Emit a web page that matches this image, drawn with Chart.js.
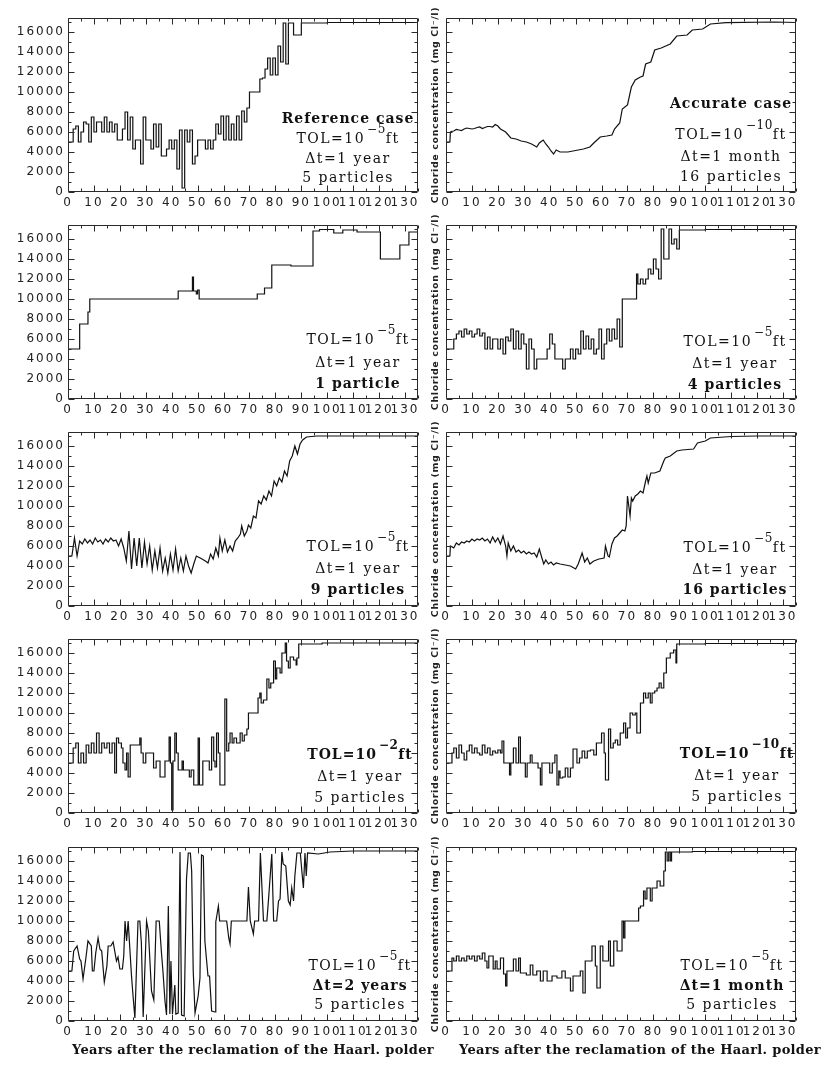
<!DOCTYPE html>
<html>
<head>
<meta charset="utf-8">
<title>Chloride concentration after the reclamation of the Haarlemmermeer polder</title>
<script src="https://cdn.jsdelivr.net/npm/chart.js@4.4.1/dist/chart.umd.min.js"></script>
<style>
  html, body { margin: 0; padding: 0; background: #fff; }
  #fig { position: relative; width: 822px; height: 1065px; overflow: hidden; background: #fff; }
  #fig canvas { position: absolute; }
  .note {
    position: absolute; transform: translateX(-50%); white-space: nowrap;
    font-family: "DejaVu Serif", serif; font-size: 14px; line-height: 14px;
    letter-spacing: 1.5px; color: #111; z-index: 2;
  }
  .note b { letter-spacing: 1px; }
  .note sup { font-size: 12px; vertical-align: 0; position: relative; top: -10px; margin-left: 2px; letter-spacing: 0.5px; }
  .xtitle {
    position: absolute; transform: translateX(-50%); white-space: nowrap;
    font-family: "DejaVu Serif", serif; font-weight: bold; font-size: 13px;
    letter-spacing: 0.3px; line-height: 14px; color: #111; z-index: 2;
  }
</style>
</head>
<body>
<div id="fig"></div>
<script>
// ---- axis ticks ----------------------------------------------------------
const X_LABELS = [0, 10, 20, 30, 40, 50, 60, 70, 80, 90, 100, 110, 120, 130];
const X_MARKS = [0, 5, 10, 15, 20, 25, 30, 35, 40, 45, 50, 55, 60, 65, 70, 75, 80, 85, 90, 95, 100, 105, 110, 115, 120, 125, 130, 135];
const Y_LABELS = [0, 2000, 4000, 6000, 8000, 10000, 12000, 14000, 16000];
const Y_MARKS = [0, 1000, 2000, 3000, 4000, 5000, 6000, 7000, 8000, 9000, 10000, 11000, 12000, 13000, 14000, 15000, 16000, 17000];
const X_MAX = 135;
const Y_MAX = 17400;
const Y_TITLE = 'Chloride concentration (mg Cl\u207B/l)';
const X_TITLE = 'Years after the reclamation of the Haarl. polder';

// ---- chloride concentration (mg Cl-/l) against years after reclamation ----
// Reference case: TOL=1e-5 ft, dt=1 year, 5 particles
const refYears = [0,2,3,4,5,6,7,8,9,10,11,12,13,14,15,16,17,18,19,21,22,23,24,25,26,28,29,30,32,33,34,35,36,38,39,40,41,42,43,44,45,46,47,48,49,50,53,54,55,56,57,58,59,60,61,62,63,64,65,66,67,68,69,70,74,75,76,77,78,79,80,81,82,83,84,85,87,90,100,135];
const refConc = [5000,6300,6600,5000,6000,7000,6800,5000,7500,6000,7000,7000,6000,7500,6000,7000,6000,6800,5200,6300,8000,5200,7500,4300,5200,2800,7500,5200,4300,6800,4500,6800,3600,4300,5200,4300,5200,2300,6200,400,6200,5000,6200,2800,3600,5200,4300,5200,4300,5200,6800,5800,7600,5200,7600,5200,6800,5200,7600,5200,8100,7000,8400,10000,11300,11400,12300,13400,11700,13400,11700,14600,13000,16900,12800,16900,15700,16900,16950,17000];

// Accurate case: TOL=1e-10 ft, dt=1 month, 16 particles
const accYears = [0,1.5,1.7,2,3,4,5,6,7,8,9,10,11,12,13,14,15,16,17,18,19,20,21,23,25,27,29,31,33,35,36,37.5,38.5,39.5,40.5,41.5,42.5,44,47,50,53,55.5,57,59.5,62,64,65,67,68,70,71.5,73,75,76,77,79,80.5,83,86.5,89,93,95,99,102,108,127,135];
const accConc = [5000,5000,6000,6050,6100,6250,6200,6150,6300,6400,6350,6300,6350,6450,6500,6350,6450,6550,6550,6500,6750,6600,6300,6000,5400,5300,5100,5000,4800,4500,4900,5200,4800,4500,4100,3800,4200,4000,4000,4150,4300,4500,4900,5500,5600,5700,6300,6900,8300,8700,10500,11200,11500,11600,12800,13000,14200,14400,14800,15600,15700,16200,16300,16800,16930,17000,16950];

// 1 particle
const oneYears = [0,4.5,7.7,8.4,42.5,48,48.4,49.5,50,50.6,73,75.8,78.6,86,94.5,97,102.5,106,111.5,120.5,128,131.5,135];
const oneConc = [5000,7500,8700,10000,10800,12200,10800,10500,10900,10000,10500,11100,13400,13300,16800,16950,16600,16900,16700,14000,15400,16700,16700];

// 4 particles
const fourYears = [0,3,4,5,6,7,8,9,10,11,12,13,14,15,16,17,18,20,21,22,23,24,25,26,27,28,29,30,31,32,33,34,35,39,40,41,42,45,46,48,49,50,51,52,53,54,55,56,57,58,59,60,61,62,63,64,65,66,67,68,73.5,74,75,76,77,78,79,80,81,82,83,84,86,87,88,89,90,100,135];
const fourConc = [5000,6000,6500,6800,6200,7000,6500,6800,6200,6500,7000,6300,6600,5000,6200,5000,6000,5000,6000,4500,6200,5800,7000,5000,6800,5000,6500,5500,3000,6000,5000,3000,4000,5000,6500,5500,4000,3000,4000,5000,4000,5000,4500,6800,5000,6300,5000,6000,4500,5000,7000,4000,5500,7000,5800,7000,6000,8000,5200,10000,12500,11500,12000,11500,12000,13000,12500,14000,13000,12000,17000,14000,17000,15500,16000,15000,16900,16950,17000];

// 9 particles
const nineYears = [0,1.5,2.5,3.5,4.5,5.5,6.5,7.5,8.5,9.5,10.5,11.5,12.5,13.5,14.5,15.5,16.5,17.5,18.5,19.5,20.5,21.5,22.5,23.5,24.5,25.5,26.5,27.5,28.5,29.5,30.5,31.5,32.5,33.5,34.5,35.5,36.5,37.5,38.5,39.5,40.5,41.5,42.5,43.5,44.5,45.5,46.5,47.5,48.5,49.5,51,53,54,55,56,57,58,58.6,59.5,60.5,61.5,62.5,63.5,64.5,65.5,66.5,67,68,69,69.6,70.5,71.5,72.5,73.5,74.5,75.5,76.5,77.5,78.5,79.5,80.5,81.5,82.5,83.5,84.5,85.5,86.5,87.5,88.5,89.5,90.5,92,96,135];
const nineConc = [5000,5000,6800,5000,6500,6200,6700,6300,6600,6200,6800,6400,6600,6200,6700,6400,6800,6500,6600,6000,6700,5800,4500,7500,3700,6800,4000,6800,3800,6400,4200,6000,3600,5500,3800,5800,3500,4800,3300,5200,3600,5700,3500,4800,3500,5000,4000,3300,4200,5000,4800,4500,4300,5200,4700,5800,5000,6800,5500,6600,5400,6000,5500,6500,6800,7200,8000,7000,7500,8100,7800,9000,8800,10500,10200,11000,10600,11500,11000,12500,12000,12800,12400,13500,13000,14500,15000,16000,15200,16200,16600,16900,17000,17000];

// 16 particles, dt=1 year
const sixYears = [0,1.5,1.7,3,4,5,6,7,8,9,10,11,12,13,14,15,16,17,18,19,20,21,22,23,23.5,24,25,26,27,28,29,30,31,32,33,34,35,36,37,37.7,38.5,39.5,40.5,41.5,42.5,44,46,48,50,51,52.5,53.5,54.5,55.5,57,59,61,61.5,62.5,63,64,65,66,67,68,69,69.5,70,70.5,71,71.5,72,73,74,75,76,77,77.5,78,79,80.5,82.5,84,84.6,86.5,89,91,95.5,97,100,102,110,120,135];
const sixConc = [5000,5000,6000,5800,6300,6100,6400,6300,6500,6400,6700,6500,6700,6600,6800,6500,6700,6300,6900,6400,6800,6200,7000,6000,5000,6300,5500,6000,5400,5600,5300,5500,5200,5400,5200,5300,4900,5700,4800,4200,4600,4200,4400,4100,4300,4200,4100,4000,3700,4200,5300,4400,4800,4200,4500,4700,4800,6000,5000,4900,6200,6800,7000,7300,7600,7500,8000,11000,10000,9000,10800,10500,11000,11200,11500,11300,12500,13000,12300,13300,13300,13500,14500,14800,15000,15500,15600,15700,16300,16500,16800,16950,17000,17000];

// TOL=1e-2 ft
const tol2Years = [0,2,3,4,5,6,7,8,9,10,11,12,13,14,15,16,17,18,18.7,19.5,20.6,21.2,22,22.6,23.2,24,27.7,28.2,29,30,33,34,35.5,37.4,39,39.5,40,40.5,41.2,41.8,42.5,44,44.5,46.8,47.5,48.5,50.2,50.7,52,54.5,55.4,56.2,56.7,57.3,58,58.6,60.5,61.2,62,62.5,63.3,64,65,66.4,67.2,68,69,69.6,73.3,74,74.5,75.4,76.7,77.5,78.2,79.3,80,80.5,81.8,82.5,83.8,84.3,85,85.7,87,88,88.3,89,98,135];
const tol2Conc = [5000,6500,7000,5000,6000,5000,6800,6000,7000,6000,8000,6000,7000,6500,7000,6000,7000,4000,7500,7000,6500,5000,4300,6000,3600,6800,7500,6000,5000,6000,4500,5200,3600,5200,7600,5000,300,5200,8000,6000,4300,5200,4300,3600,4300,2800,7500,2800,5200,4300,7600,5200,4600,8000,6000,2800,11400,6200,7000,8000,7000,7500,7000,8000,7200,7800,8400,10000,11500,12000,11000,11300,13400,12500,13000,15200,13400,14500,14000,16000,17000,15200,14500,15600,15300,14800,15500,16900,17000,17000];

// TOL=1e-10 ft, dt=1 year
const tol10Years = [0,2.3,3,4,5,6,7,8,9,10,11,12,13,14,15,16,17,18,19,20,21,21.6,22.3,24.5,25,26,27,28,28.7,30.6,31.3,32.5,33.2,35.5,36.4,37,40,41,42,42.8,43.5,44,45,46,47,48,49,50.5,51.5,52.5,53.5,54.5,55.7,57,58,60,61,61.5,62.7,63.5,64.5,65.3,66.2,67.2,68.5,69.3,70,71,72,73,73.6,75,76.2,77,78,78.8,79.5,80.5,81.4,82.2,83,84,85,86.5,87.8,88.7,89,100,135];
const tol10Conc = [5000,6000,6500,5500,6800,6000,5300,6200,6800,6000,6500,6000,5800,6800,6000,6500,5800,6200,6000,6300,6000,7200,5000,3800,5000,6500,5000,7600,5000,3600,5000,5800,5000,4500,2800,5000,4000,5000,5800,2800,4200,3500,3600,4500,3600,4500,6400,5000,5500,6200,5500,6200,6300,5800,7000,8000,6000,3300,8400,6500,7000,7300,6800,8000,9000,7500,8500,10000,9800,10000,8000,11000,12000,11500,12000,11000,12000,12200,12500,13000,12500,14000,15500,16000,16300,15000,16900,16950,17000];

// dt=2 years
const dt2Years = [0,1.5,2.2,3.5,4.5,5,5.8,7,7.7,9,9.4,10,10.7,11.6,12.3,13,14,15,15.5,16.5,17.4,18.7,19.3,20,21,21.5,22,22.6,23.2,24.5,25,25.8,27,27.7,28.3,29,30.3,31,32.2,33.1,34,35.2,36,36.7,37.4,38,38.7,39.3,39.7,40.3,41.2,41.6,42.5,43.2,43.8,44.8,45.7,46.4,47.2,47.7,48.3,49,50.2,50.9,51.5,52.2,52.8,53.3,54,54.6,55.4,56.7,57,58,58.5,61.2,62,62.5,63,69,69.6,70.3,71.5,72,73.5,74.2,75.4,76.7,77.3,78.6,79.3,80.5,81.2,81.8,82.5,83,84,85,85.7,86.3,87,87.5,88.3,89.6,90.2,90.8,91.4,91.9,92.4,96.6,101,110,135];
const dt2Conc = [5000,5000,7000,7500,6200,6000,4200,6500,8000,7500,5000,5000,6800,8300,7200,7000,3900,5500,7500,7500,7900,6000,6400,5200,5200,6500,10000,8000,10000,4500,2800,300,10000,10000,7800,400,10000,9000,3000,2100,10000,10000,7000,4700,2000,600,11500,700,6000,700,3600,700,800,16900,600,500,14200,16800,16800,15000,5000,800,2500,4300,16600,16500,8000,6500,4500,4500,1000,900,9900,11500,10000,10000,8300,7700,10000,10000,13400,10000,8700,10000,10000,16800,10000,10000,12000,16700,10000,10000,12000,12200,16900,15700,15500,12000,11600,13300,12000,14500,16800,16800,15000,13300,16800,14500,16800,16700,16900,17000,17000];

// dt=1 month, 5 particles
const monYears = [0,2.3,3,4,5,6,7,8,9,10,11,12,13,14,15,15.8,16.5,18.2,19,19.7,21,22.2,23,23.5,26,27,28,28.7,31,32.5,33.5,35,36.4,37.5,39,40.9,42.8,44.7,46,48,49,51.8,52.8,53.7,56.3,57.6,58.2,59.5,60.5,62.7,63.4,64.7,66,67.9,68.5,69,74.3,75,76.2,76.8,77.5,78.8,79.5,81.4,82.6,84,84.6,85.3,85.9,86.5,87,95,135];
const monConc = [5000,6300,6000,6500,6000,6300,6000,6500,6200,6500,6000,6500,6200,6800,6000,5300,6500,5200,6000,5200,6300,4700,3500,5000,6200,5000,6300,4800,4600,5600,4600,5000,4000,5000,4000,4500,4300,5000,4300,3000,4500,5000,2800,6000,7500,5500,3300,7500,6000,8000,5500,8000,7000,10000,8300,10000,11300,11500,13000,12200,13300,12000,13300,14000,13500,15000,16900,16000,16900,16000,16900,16950,17000];

// ---- panel grid -----------------------------------------------------------
const ROW_TOPS = [18, 225, 432, 639, 847];
const PLOT_H = 174;
const PAD_TOP = 14;
const X_AXIS_H = 24;
const COLS = [
  { left: 0,   width: 424, axisW: 68, padR: 6, showYLabels: true },
  { left: 424, width: 380, axisW: 22, padR: 8, showYLabels: false }
];

const TOL = e => `TOL=10<sup>\u2212${e}</sup>ft`;
const PANELS = [
  { years: refYears,  conc: refConc,  stepped: true,  row: 0, col: 0, cx: 348,
    lines: [['<b>Reference case</b>', -70], [TOL(5), -50], ['\u0394t=1 year', -30], ['5 particles', -11]] },
  { years: accYears,  conc: accConc,  stepped: false, row: 0, col: 1, cx: 731,
    lines: [['<b>Accurate case</b>', -85], [TOL(10), -54], ['\u0394t=1 month', -32], ['16 particles', -12]] },
  { years: oneYears,  conc: oneConc,  stepped: true,  row: 1, col: 0, cx: 358,
    lines: [[TOL(5), -56], ['\u0394t=1 year', -33], ['<b>1 particle</b>', -12]] },
  { years: fourYears, conc: fourConc, stepped: true,  row: 1, col: 1, cx: 735,
    lines: [[TOL(5), -54], ['\u0394t=1 year', -32], ['<b>4 particles</b>', -11]] },
  { years: nineYears, conc: nineConc, stepped: false, row: 2, col: 0, cx: 358,
    lines: [[TOL(5), -56], ['\u0394t=1 year', -34], ['<b>9 particles</b>', -13]] },
  { years: sixYears,  conc: sixConc,  stepped: false, row: 2, col: 1, cx: 735,
    lines: [[TOL(5), -55], ['\u0394t=1 year', -33], ['<b>16 particles</b>', -13]] },
  { years: tol2Years, conc: tol2Conc, stepped: true,  row: 3, col: 0, cx: 360,
    lines: [[`<b>${TOL(2)}</b>`, -55], ['\u0394t=1 year', -33], ['5 particles', -12]] },
  { years: tol10Years, conc: tol10Conc, stepped: true, row: 3, col: 1, cx: 737,
    lines: [[`<b>${TOL(10)}</b>`, -56], ['\u0394t=1 year', -34], ['5 particles', -13]] },
  { years: dt2Years,  conc: dt2Conc,  stepped: false, row: 4, col: 0, cx: 360,
    lines: [[TOL(5), -52], ['<b>\u0394t=2 years</b>', -32], ['5 particles', -13]] },
  { years: monYears,  conc: monConc,  stepped: true,  row: 4, col: 1, cx: 732,
    lines: [[TOL(5), -52], ['<b>\u0394t=1 month</b>', -32], ['5 particles', -13]] }
];

// ---- plugins ----------------------------------------------------------------
// canvas letter spacing is used when the browser has it; otherwise larger type
const CAN_SPACE = typeof CanvasRenderingContext2D !== 'undefined' &&
  'letterSpacing' in CanvasRenderingContext2D.prototype;
const TICK_SIZE = CAN_SPACE ? 12 : 13.5;
const TITLE_SIZE = CAN_SPACE ? 9.5 : 10;

function withSpacing(ctx, spacing, fn) {
  if (!CAN_SPACE) { fn(); return; }
  const prev = ctx.letterSpacing;
  ctx.letterSpacing = spacing;
  fn();
  ctx.letterSpacing = prev || '0px';
}

// wide, evenly spaced axis lettering
const spacedText = {
  id: 'spacedText',
  beforeDraw(chart) {
    Object.values(chart.scales).forEach(scale => {
      if (scale.$spaced) return;
      scale.$spaced = true;
      const drawLabels = scale.drawLabels;
      const drawTitle = scale.drawTitle;
      scale.drawLabels = function (area) { withSpacing(this.ctx, '2px', () => drawLabels.call(this, area)); };
      scale.drawTitle = function () { withSpacing(this.ctx, '0.6px', () => drawTitle.call(this)); };
    });
  }
};

// closed frame with inward tick marks on all four sides
const frame = {
  id: 'frame',
  afterDraw(chart) {
    const { ctx, chartArea: a, scales: { x, y } } = chart;
    const L = Math.round(a.left) + 0.5, R = Math.round(a.right) - 0.5;
    const T = Math.round(a.top) + 0.5, B = Math.round(a.bottom) - 0.5;
    ctx.save();
    ctx.strokeStyle = '#2a2a2a';
    ctx.lineWidth = 1;
    ctx.beginPath();
    ctx.rect(L, T, R - L, B - T);
    X_MARKS.forEach(v => {
      const px = Math.round(x.getPixelForValue(v)) + 0.5;
      const len = X_LABELS.includes(v) ? 6 : 3;
      ctx.moveTo(px, B); ctx.lineTo(px, B - len);
      ctx.moveTo(px, T); ctx.lineTo(px, T + len);
    });
    Y_MARKS.forEach(v => {
      const py = Math.round(y.getPixelForValue(v)) + 0.5;
      const len = Y_LABELS.includes(v) ? 6 : 3;
      ctx.moveTo(L, py); ctx.lineTo(L + len, py);
      ctx.moveTo(R, py); ctx.lineTo(R - len, py);
    });
    ctx.stroke();
    ctx.restore();
  }
};

// ---- build ------------------------------------------------------------------
Chart.defaults.font.family = "'DejaVu Sans', sans-serif";
Chart.defaults.color = '#222';
const fig = document.getElementById('fig');
const plain = v => String(v);

PANELS.forEach(p => {
  const col = COLS[p.col];
  const top = ROW_TOPS[p.row] - PAD_TOP;
  const canvas = document.createElement('canvas');
  canvas.width = col.width;
  canvas.height = PAD_TOP + PLOT_H + X_AXIS_H;
  canvas.style.left = col.left + 'px';
  canvas.style.top = top + 'px';
  canvas.style.width = col.width + 'px';
  canvas.style.height = canvas.height + 'px';
  fig.appendChild(canvas);

  new Chart(canvas, {
    type: 'line',
    data: {
      datasets: [{
        data: p.years.map((yr, i) => ({ x: yr, y: p.conc[i] })),
        borderColor: '#111',
        borderWidth: 1.2,
        pointRadius: 0,
        tension: 0,
        fill: false,
        stepped: p.stepped ? 'before' : false
      }]
    },
    options: {
      responsive: false,
      animation: false,
      events: [],
      layout: { padding: { left: 0, right: col.padR, top: PAD_TOP, bottom: 0 } },
      plugins: { legend: { display: false }, tooltip: { enabled: false } },
      scales: {
        x: {
          type: 'linear', min: 0, max: X_MAX,
          afterBuildTicks: s => { s.ticks = X_LABELS.map(v => ({ value: v })); },
          afterFit: s => { s.height = X_AXIS_H; s.paddingLeft = 0; s.paddingRight = 0; },
          grid: { display: false, drawTicks: false },
          border: { display: false },
          ticks: { autoSkip: false, maxRotation: 0, minRotation: 0, padding: 4,
                   callback: plain, color: '#222', font: { size: TICK_SIZE } }
        },
        y: {
          type: 'linear', min: 0, max: Y_MAX,
          afterBuildTicks: s => { s.ticks = Y_LABELS.map(v => ({ value: v })); },
          afterFit: s => { s.width = col.axisW; s.paddingTop = 0; s.paddingBottom = 0; },
          grid: { display: false, drawTicks: false },
          border: { display: false },
          ticks: { display: col.showYLabels, padding: 3, callback: plain,
                   color: '#222', font: { size: TICK_SIZE } },
          title: { display: !col.showYLabels, text: Y_TITLE, color: '#222',
                   font: { size: TITLE_SIZE, weight: 'bold' }, padding: { top: 6, bottom: 0 } }
        }
      }
    },
    plugins: [spacedText, frame]
  });

  const bottom = ROW_TOPS[p.row] + PLOT_H;
  p.lines.forEach(([html, dy]) => {
    const d = document.createElement('div');
    d.className = 'note';
    d.innerHTML = html;
    d.style.left = p.cx + 'px';
    d.style.top = (bottom + dy - 11) + 'px';
    fig.appendChild(d);
  });
});

// axis captions under the bottom row
[253, 640].forEach(cx => {
  const d = document.createElement('div');
  d.className = 'xtitle';
  d.textContent = X_TITLE;
  d.style.left = cx + 'px';
  d.style.top = '1043px';
  fig.appendChild(d);
});
</script>
</body>
</html>
